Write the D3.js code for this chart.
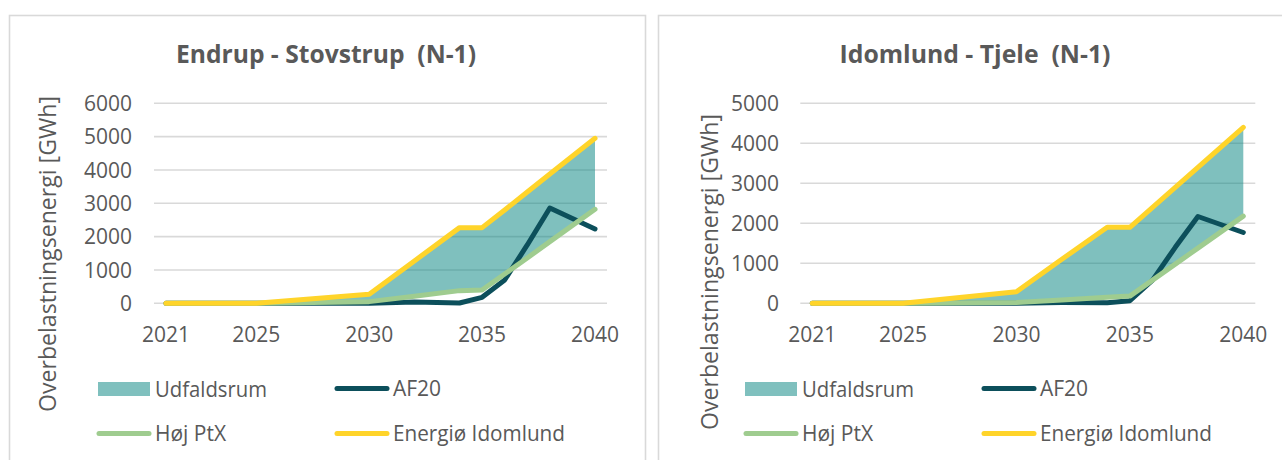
<!DOCTYPE html>
<html>
<head>
<meta charset="utf-8">
<script src="https://cdn.jsdelivr.net/npm/d3@7"></script>
<style>
  body { margin: 0; background: #fff; }
  svg { display: block; font-family: "Open Sans", sans-serif; }
</style>
</head>
<body>
<div id="chart"></div>
<script>
(function(){
var years = [2021, 2025, 2030, 2032, 2034, 2035, 2036, 2037, 2038, 2040];
var xTicks = [2021, 2025, 2030, 2035, 2040];
var legendNames = ["Udfaldsrum", "AF20", "Høj PtX", "Energiø Idomlund"];

// Endrup - Stovstrup (N-1)
var esTitle = "Endrup - Stovstrup  (N-1)";
var esTicks = [0, 1000, 2000, 3000, 4000, 5000, 6000];
var esAF20 = [0, 0, 0, 40, 10, 180, 700, 1750, 2860, 2230];
var esPtX = [0, 0, 50, 210, 380, 400, 880, 1360, 1850, 2820];
var esEnergio = [0, 0, 270, 1270, 2270, 2270, 2800, 3340, 3880, 4950];

// Idomlund - Tjele (N-1)
var itTitle = "Idomlund - Tjele  (N-1)";
var itTicks = [0, 1000, 2000, 3000, 4000, 5000];
var itAF20 = [0, 0, 0, 20, 15, 65, 580, 1400, 2170, 1770];
var itPtX = [0, 0, 20, 85, 150, 180, 580, 980, 1380, 2180];
var itEnergio = [0, 0, 290, 1100, 1900, 1900, 2400, 2900, 3400, 4400];

var yTitle = "Overbelastningsenergi [GWh]";

var colors = {
  area: "rgba(0,130,125,0.5)",
  af20: "#0c4f5b",
  ptx: "#9fcc8f",
  energio: "#ffd42a",
  text: "#595959",
  grid: "#d9d9d9"
};

var svg = d3.select("#chart")
  .append("svg")
  .attr("width", 1282)
  .attr("height", 460);

// squeeze text to the width it has in the picture
function fit(sel, w) {
  var len = sel.node().getComputedTextLength();
  if (Math.abs(len - w) > 2) {
    sel.attr("textLength", w).attr("lengthAdjust", "spacingAndGlyphs");
  }
}

var panels = [
  {title: esTitle, titleW: 300, ticks: esTicks, af20: esAF20, ptx: esPtX, energio: esEnergio,
   left: 9, right: 645, x0: 166, x1: 595, yMax: 6000, tcx: 326, labelX: 132,
   ytX: 47, ytY: 254, dx: 0},
  {title: itTitle, titleW: 271, ticks: itTicks, af20: itAF20, ptx: itPtX, energio: itEnergio,
   left: 658, right: 1300, x0: 812.3, x1: 1243.3, yMax: 5000, tcx: 975, labelX: 779,
   ytX: 709, ytY: 272, dx: 647}
];

panels.forEach(function(p) {
  var g = svg.append("g");

  // frame
  g.append("rect")
    .attr("x", p.left + 0.5)
    .attr("y", 15.5)
    .attr("width", p.right - p.left)
    .attr("height", 500)
    .attr("fill", "none")
    .attr("stroke", colors.grid)
    .attr("stroke-width", 1.6);

  var x = d3.scaleLinear().domain([2021, 2040]).range([p.x0, p.x1]);
  var y = d3.scaleLinear().domain([0, p.yMax]).range([303.3, 103.3]);

  // gridlines
  g.selectAll(".grid")
    .data(p.ticks)
    .enter()
    .append("line")
    .attr("x1", p.x0 - 12)
    .attr("x2", p.x1 + 12)
    .attr("y1", function(d){ return y(d); })
    .attr("y2", function(d){ return y(d); })
    .attr("stroke", colors.grid)
    .attr("stroke-width", 1.6);

  // y tick labels
  g.selectAll(".ylab")
    .data(p.ticks)
    .enter()
    .append("text")
    .attr("x", p.labelX)
    .attr("y", function(d){ return y(d); })
    .attr("dy", "0.36em")
    .attr("text-anchor", "end")
    .attr("font-size", "21px")
    .attr("fill", colors.text)
    .text(function(d){ return d; });

  // x tick labels
  g.selectAll(".xlab")
    .data(xTicks)
    .enter()
    .append("text")
    .attr("x", function(d){ return x(d); })
    .attr("y", 342)
    .attr("text-anchor", "middle")
    .attr("font-size", "21px")
    .attr("fill", colors.text)
    .text(function(d){ return d; });

  var rows = years.map(function(yr, i) {
    return {year: yr, af20: p.af20[i], ptx: p.ptx[i], energio: p.energio[i]};
  });

  // Udfaldsrum band
  g.append("path")
    .datum(rows)
    .attr("fill", colors.area)
    .attr("d", d3.area()
      .x(function(d){ return x(d.year); })
      .y0(function(d){ return y(d.ptx); })
      .y1(function(d){ return y(d.energio); }));

  ["af20", "ptx", "energio"].forEach(function(key) {
    g.append("path")
      .datum(rows)
      .attr("fill", "none")
      .attr("stroke", colors[key])
      .attr("stroke-width", 5)
      .attr("stroke-linejoin", "round")
      .attr("stroke-linecap", "round")
      .attr("d", d3.line()
        .x(function(d){ return x(d.year); })
        .y(function(d){ return y(d[key]); }));
  });

  // title
  var t = g.append("text")
    .attr("x", p.tcx)
    .attr("y", 63)
    .attr("text-anchor", "middle")
    .attr("font-size", "25px")
    .attr("font-weight", "bold")
    .attr("fill", colors.text)
    .style("white-space", "pre")
    .text(p.title);
  fit(t, p.titleW);

  // y axis title
  var yt = g.append("text")
    .attr("transform", "translate(" + p.ytX + "," + p.ytY + ") rotate(-90)")
    .attr("text-anchor", "middle")
    .attr("dy", "0.36em")
    .attr("font-size", "24px")
    .attr("fill", colors.text)
    .text(yTitle);
  fit(yt, 316);

  // legend
  var lg = g.append("g").attr("transform", "translate(" + p.dx + ",0)");
  var items = [
    {name: legendNames[0], type: "rect", color: colors.area, sx: 98, tx: 155, y: 389, w: 112},
    {name: legendNames[1], type: "line", color: colors.af20, sx: 337, tx: 393, y: 388.5, w: 48},
    {name: legendNames[2], type: "line", color: colors.ptx, sx: 99, tx: 155, y: 433.5, w: 70},
    {name: legendNames[3], type: "line", color: colors.energio, sx: 337, tx: 393, y: 433.5, w: 172}
  ];
  items.forEach(function(it) {
    if (it.type === "rect") {
      lg.append("rect")
        .attr("x", it.sx)
        .attr("y", it.y - 7)
        .attr("width", 52)
        .attr("height", 14)
        .attr("fill", it.color);
    } else {
      lg.append("line")
        .attr("x1", it.sx)
        .attr("x2", it.sx + 50)
        .attr("y1", it.y)
        .attr("y2", it.y)
        .attr("stroke", it.color)
        .attr("stroke-width", 5)
        .attr("stroke-linecap", "round");
    }
    var lt = lg.append("text")
      .attr("x", it.tx)
      .attr("y", it.y)
      .attr("dy", "0.36em")
      .attr("font-size", "21px")
      .attr("fill", colors.text)
      .text(it.name);
    fit(lt, it.w);
  });
});

})();
</script>
</body>
</html>
